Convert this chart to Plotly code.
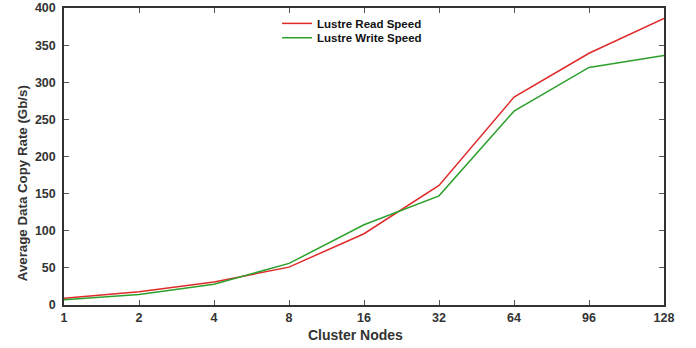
import plotly.graph_objects as go

nodes = ["1", "2", "4", "8", "16", "32", "64", "96", "128"]
read_speed = [9, 18, 31, 51, 96, 161, 280, 339, 386]
write_speed = [7, 14, 28, 56, 108, 147, 261, 320, 336]

font_fam = "Liberation Sans, Arial, sans-serif"

fig = go.Figure()
fig.add_trace(go.Scatter(x=nodes, y=read_speed, mode="lines", name="<b>Lustre Read Speed</b>",
                         line=dict(color="#e02a2a", width=1.5), legend="legend"))
fig.add_trace(go.Scatter(x=nodes, y=write_speed, mode="lines", name="<b>Lustre Write Speed</b>",
                         line=dict(color="#2ca02c", width=1.5), legend="legend2"))

axis_common = dict(showline=True, linecolor="#333", linewidth=1.5, mirror="ticks",
                   ticks="inside", ticklen=5, tickcolor="#555", showgrid=False, zeroline=False,
                   automargin=False,
                   tickfont=dict(family=font_fam, size=12.5, color="#333"))

leg_common = dict(xanchor="left", yanchor="top", bgcolor="rgba(0,0,0,0)",
                  font=dict(family=font_fam, size=11.5, color="#111"), itemwidth=30)

fig.update_layout(
    width=696, height=348,
    margin=dict(l=64, r=32, t=8, b=43, autoexpand=False),
    plot_bgcolor="white", paper_bgcolor="white",
    font=dict(family=font_fam, color="#333"),
    showlegend=True,
    legend=dict(x=0.355, y=0.997, **leg_common),
    legend2=dict(x=0.355, y=0.949, **leg_common),
    xaxis=dict(type="category", range=[0, 8], tickprefix="<b>", ticksuffix="</b>",
               **axis_common),
    yaxis=dict(range=[0, 400], dtick=50, tickprefix="<b>", ticksuffix="</b>",
               ticklabelstandoff=4,
               **axis_common),
    annotations=[
        dict(text="<b>Cluster Nodes</b>", xref="paper", yref="paper", x=0.485, y=-0.101,
             xanchor="center", yanchor="middle", showarrow=False,
             font=dict(family=font_fam, size=14, color="#333")),
        dict(text="<b>Average Data Copy Rate (Gb/s)</b>", xref="paper", yref="paper",
             x=-0.07, y=0.41, xanchor="center", yanchor="middle", textangle=-90,
             showarrow=False, font=dict(family=font_fam, size=13.3, color="#333")),
    ],
)

fig.write_html("out.html", config={"displayModeBar": False},
               post_script="document.body.style.margin='0';document.body.style.overflow='hidden';")
